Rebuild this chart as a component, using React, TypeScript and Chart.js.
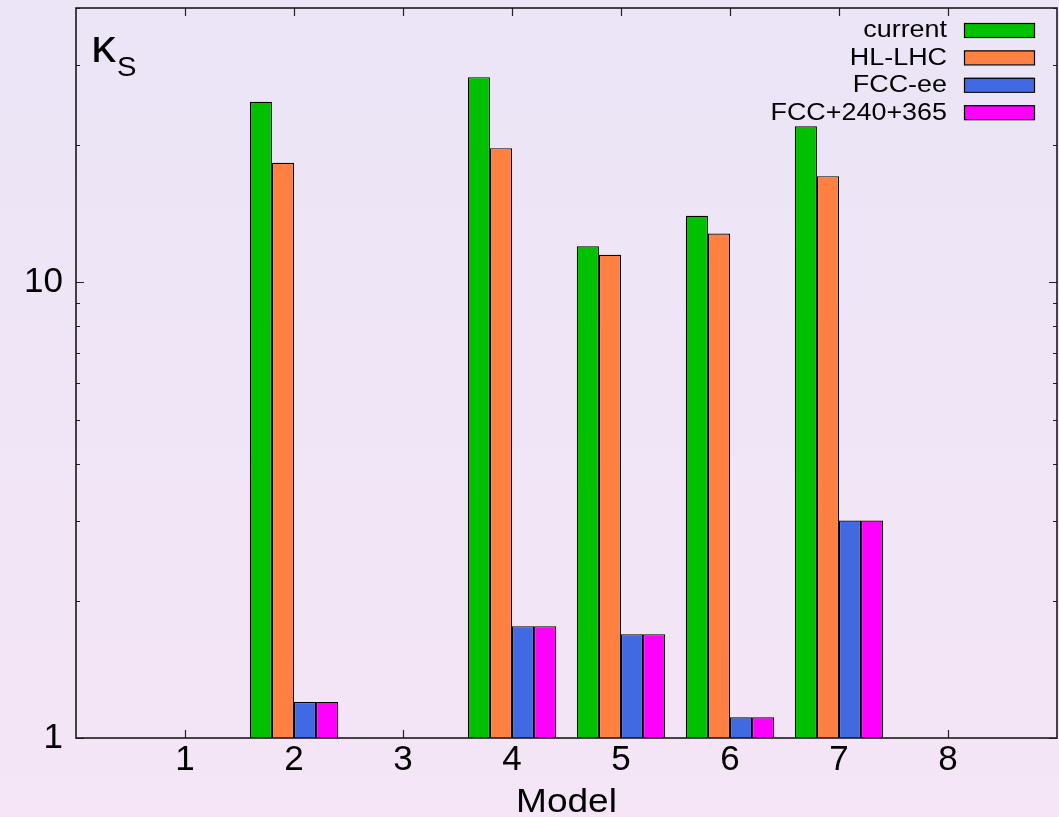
import React, { useEffect, useRef } from "react";
import { Chart, registerables } from "chart.js";

Chart.register(...registerables);

// ---- data ----
const xLabels = ["", "1", "2", "3", "4", "5", "6", "7", "8", ""];
const seriesNames = ["current", "HL-LHC", "FCC-ee", "FCC+240+365"];
const seriesColors = ["#00C000", "#FF8040", "#4169E1", "#FF00FF"];
// values per model 1..8 (null = no bar)
const current = [null, 24.9, null, 28.2, 12.0, 14.0, 22.0, null];
const hllhc = [null, 18.3, null, 19.7, 11.5, 12.8, 17.1, null];
const fccee = [null, 1.2, null, 1.76, 1.69, 1.11, 3.0, null];
const fcc240365 = [null, 1.2, null, 1.76, 1.69, 1.11, 3.0, null];
const yMin = 1;
const yMax = 40;
const yLabeled = [1, 10];
const yMinorTicks = [2, 3, 4, 5, 6, 7, 8, 9, 20, 30, 40];
const xTickValues = ["1", "2", "3", "4", "5", "6", "7", "8"];

const FONT = "'Liberation Sans', Arial, Helvetica, sans-serif";

const pad = (arr: (number | null)[]) => [null, ...arr, null];

function stretchedText(ctx: any, text: string, x: number, y: number, sx: number) {
  ctx.save();
  ctx.translate(x, y);
  ctx.scale(sx, 1);
  ctx.fillText(text, 0, 0);
  ctx.restore();
}

export default function App() {
  const ref = useRef<HTMLCanvasElement | null>(null);

  useEffect(() => {
    document.body.style.margin = "0";
    const canvas = ref.current!;
    const allSeries = [current, hllhc, fccee, fcc240365];

    const bgPlugin = {
      id: "bg",
      beforeDraw(chart: any) {
        const { ctx, width, height } = chart;
        const g = ctx.createLinearGradient(0, 0, 0, height);
        g.addColorStop(0, "#EBE5F7");
        g.addColorStop(1, "#F5E5F6");
        ctx.save();
        ctx.fillStyle = g;
        ctx.fillRect(0, 0, width, height);
        ctx.restore();
      },
    };

    const ticksPlugin = {
      id: "inTicks",
      beforeDatasetsDraw(chart: any) {
        const { ctx, chartArea } = chart;
        const { left, right, top, bottom } = chartArea;
        const y = chart.scales.y;
        const x = chart.scales.x;
        ctx.save();
        ctx.strokeStyle = "#222";
        ctx.lineWidth = 1.2;
        ctx.beginPath();
        const drawY = (v: number, len: number) => {
          const py = Math.round(y.getPixelForValue(v)) + 0.5;
          ctx.moveTo(left, py);
          ctx.lineTo(left + len, py);
          ctx.moveTo(right, py);
          ctx.lineTo(right - len, py);
        };
        yLabeled.forEach((v) => drawY(v, 8));
        yMinorTicks.forEach((v) => drawY(v, 4));
        xTickValues.forEach((lab) => {
          const idx = xLabels.indexOf(lab);
          const px = Math.round(x.getPixelForValue(idx)) + 0.5;
          ctx.moveTo(px, bottom);
          ctx.lineTo(px, bottom - 8);
          ctx.moveTo(px, top);
          ctx.lineTo(px, top + 8);
        });
        ctx.stroke();
        ctx.restore();
      },
      afterDatasetsDraw(chart: any) {
        const { ctx, chartArea } = chart;
        const { left, right, top, bottom } = chartArea;
        ctx.save();
        // frame
        ctx.strokeStyle = "#1a1a1a";
        ctx.lineWidth = 1.6;
        ctx.strokeRect(left, top, right - left, bottom - top);

        // legend
        ctx.font = `23px ${FONT}`;
        ctx.textAlign = "right";
        ctx.textBaseline = "middle";
        seriesNames.forEach((name, i) => {
          const by = 23 + i * 27.4;
          ctx.fillStyle = "#000";
          stretchedText(ctx, name, 947, by + 8, 1.17);
          ctx.fillStyle = seriesColors[i];
          ctx.fillRect(964, by, 70, 14);
          ctx.strokeStyle = "#000";
          ctx.lineWidth = 1.2;
          ctx.strokeRect(964.5, by + 0.5, 70, 14);
        });

        // y title kappa_S
        ctx.fillStyle = "#000";
        ctx.textAlign = "left";
        ctx.textBaseline = "alphabetic";
        ctx.font = `46px ${FONT}`;
        stretchedText(ctx, "κ", 91, 62, 1.08);
        ctx.font = `27px ${FONT}`;
        stretchedText(ctx, "S", 117, 76, 1.08);

        // x title
        ctx.font = `34px ${FONT}`;
        ctx.textAlign = "center";
        stretchedText(ctx, "Model", (left + right) / 2, 812, 1.09);
        ctx.restore();
      },
    };

    const chart = new Chart(canvas, {
      type: "bar",
      data: {
        labels: xLabels,
        datasets: allSeries.map((s, i) => ({
          label: seriesNames[i],
          data: pad(s),
          backgroundColor: seriesColors[i],
          borderColor: "#000",
          borderWidth: 1.2,
          categoryPercentage: 0.81,
          barPercentage: 1.0,
        })),
      },
      options: {
        animation: false,
        responsive: false,
        devicePixelRatio: 1,
        layout: { padding: { top: 8, right: 2, left: 0, bottom: 0 } },
        plugins: {
          legend: { display: false },
          tooltip: { enabled: false },
        },
        scales: {
          x: {
            type: "category",
            offset: false,
            grid: { display: false, drawTicks: false },
            border: { display: false },
            ticks: {
              autoSkip: false,
              maxRotation: 0,
              padding: 1,
              color: "#000",
              font: { family: FONT, size: 35 },
              callback: (_v: any, i: number) => (xLabels[i] === "" ? null : xLabels[i]),
            },
            afterFit: (s: any) => {
              s.height = 79;
              s.paddingLeft = 0;
              s.paddingRight = 0;
            },
          },
          y: {
            type: "logarithmic",
            min: yMin,
            max: yMax,
            grid: { display: false, drawTicks: false },
            border: { display: false },
            ticks: {
              padding: 13,
              color: "#000",
              font: { family: FONT, size: 35 },
              callback: (v: any) => (yLabeled.includes(Number(v)) ? String(v) : null),
            },
            afterFit: (s: any) => {
              s.width = 76;
              s.paddingTop = 0;
              s.paddingBottom = 0;
            },
          },
        },
      },
      plugins: [bgPlugin, ticksPlugin],
    } as any);

    return () => chart.destroy();
  }, []);

  return (
    <div style={{ width: 1059, height: 817 }}>
      <canvas ref={ref} width={1059} height={817} style={{ display: "block" }} />
    </div>
  );
}
